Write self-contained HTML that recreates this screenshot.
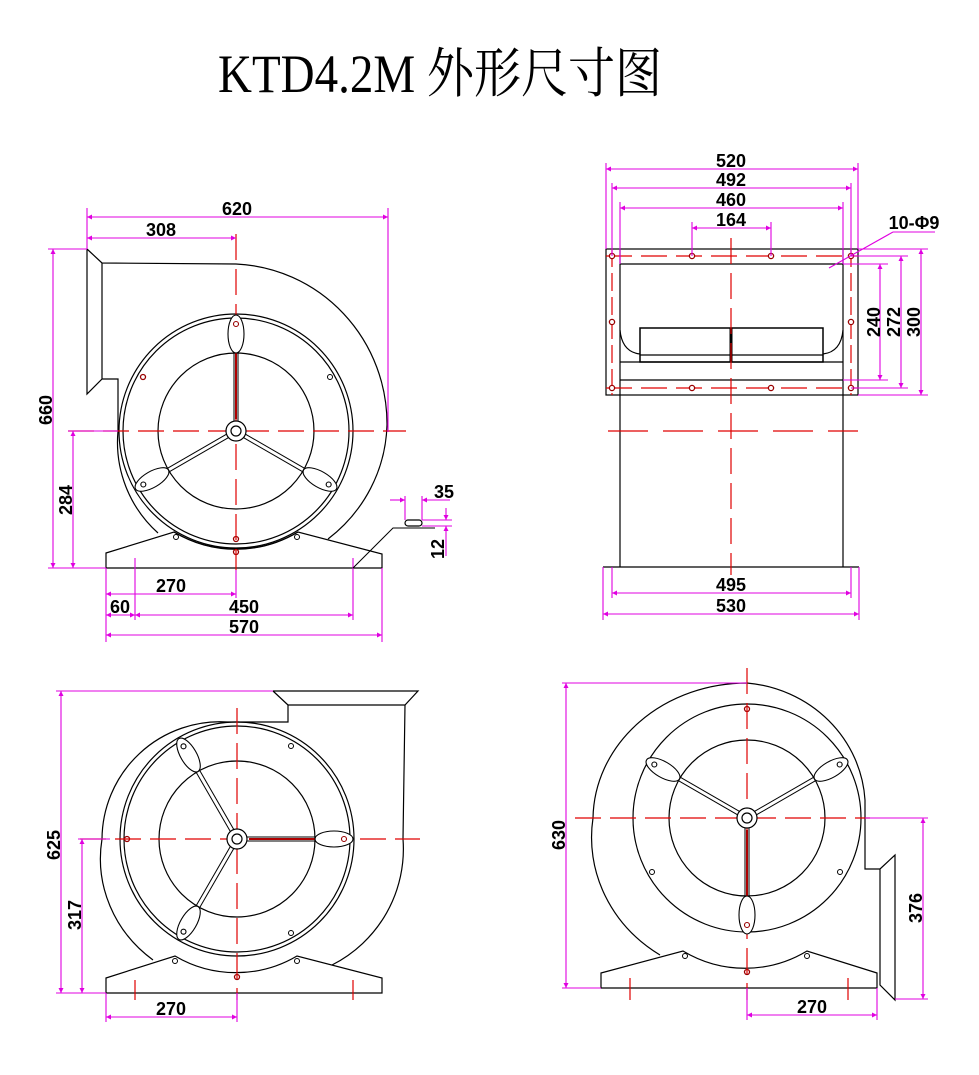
<!DOCTYPE html>
<html><head><meta charset="utf-8">
<style>
html,body{margin:0;padding:0;background:#fff;}
svg{display:block;}
.k{fill:none;stroke:#000;stroke-width:1.2;}
.r{fill:none;stroke:#e00000;stroke-width:1.2;stroke-dasharray:26 9;}
.m{fill:none;stroke:#e000e0;stroke-width:1.1;}
.d{fill:none;stroke:#e000e0;stroke-width:1.1;marker-start:url(#a);marker-end:url(#a);}
.t{font-family:"Liberation Sans Narrow","Liberation Sans",sans-serif;font-size:18px;font-weight:bold;fill:#000;text-anchor:middle;}
.h{fill:#fff;stroke:#000;stroke-width:1;}
.hr{fill:#fff;stroke:#900;stroke-width:1.3;}
</style></head><body>
<svg id="s" width="979" height="1075" viewBox="0 0 979 1075" xmlns="http://www.w3.org/2000/svg">
<defs>
<marker id="a" viewBox="0 0 10 10" refX="10" refY="5" markerWidth="9" markerHeight="5" orient="auto-start-reverse" markerUnits="userSpaceOnUse"><path d="M0,0 L10,5 L0,10 z" fill="#e000e0"/></marker>
</defs>
<text x="218" y="92" font-family="'Liberation Serif','Noto Serif CJK SC',serif" font-size="54" textLength="444" lengthAdjust="spacingAndGlyphs" fill="#000">KTD4.2M 外形尺寸图</text>

<!-- ===== VIEW 1 ===== -->
<g id="v1">
<path class="k" d="M87,249 L102,263 L236,264 A158,160 0 0 1 387,425 A154,150 0 0 1 328,539"/>
<path class="k" d="M87,249 L87,394 L102,379 L102,263 M102,379 L118,379 L118,431 A122,122 0 0 0 158,533"/>
<circle class="k" cx="236" cy="431" r="117"/>
<circle class="k" cx="236" cy="431" r="113"/>
<circle class="k" cx="236" cy="431" r="78"/>
<path class="k" d="M106,553 L174,532 A120,120 0 0 0 298,532 L382,554 L382,568 L106,568 Z" style="fill:#fff"/>
<path class="k" d="M174,532 A122,122 0 0 0 298,532"/>
<circle class="h" cx="176" cy="537" r="2.5"/><circle class="h" cx="297" cy="537" r="2.5"/>
<circle class="hr" cx="236" cy="552" r="2.5"/><circle class="hr" cx="236" cy="539" r="2.5"/>
<circle class="hr" cx="143" cy="377" r="2.5"/><circle class="h" cx="330" cy="377" r="2.5"/>
<line class="r" x1="68" y1="431" x2="406" y2="431"/>
<line class="r" x1="236" y1="234" x2="236" y2="570"/>
</g>
<!-- dims v1 -->
<line class="d" x1="87" y1="217" x2="388" y2="217"/><text class="t" x="237" y="215">620</text>
<line class="d" x1="87" y1="238" x2="236" y2="238"/><text class="t" x="161" y="236">308</text>
<line class="m" x1="87" y1="208" x2="87" y2="249"/><line class="m" x1="388" y1="208" x2="388" y2="432"/>
<line class="d" x1="53" y1="249" x2="53" y2="568"/><text class="t" transform="translate(52,410) rotate(-90)">660</text>
<line class="d" x1="73" y1="431" x2="73" y2="568"/><text class="t" transform="translate(72,500) rotate(-90)">284</text>
<line class="m" x1="48" y1="249" x2="87" y2="249"/><line class="m" x1="48" y1="568" x2="106" y2="568"/>
<line class="m" x1="68" y1="431" x2="118" y2="431"/>
<line class="m" x1="106" y1="568" x2="106" y2="642"/><line class="m" x1="382" y1="568" x2="382" y2="642"/>
<line class="m" x1="135" y1="558" x2="135" y2="620"/><line class="m" x1="353" y1="558" x2="353" y2="620"/>
<line class="m" x1="236" y1="570" x2="236" y2="598"/>
<line class="d" x1="106" y1="594" x2="236" y2="594"/><text class="t" x="171" y="592">270</text>
<line class="d" x1="106" y1="615" x2="135" y2="615"/><text class="t" x="120" y="613">60</text>
<line class="d" x1="135" y1="615" x2="353" y2="615"/><text class="t" x="244" y="613">450</text>
<line class="d" x1="106" y1="635" x2="382" y2="635"/><text class="t" x="244" y="633">570</text>
<path class="k" d="M353,568 L393,528 L435,528" style="stroke-width:1"/>
<rect x="405" y="520" width="17" height="6" rx="3" class="k"/>
<line class="m" x1="405" y1="496" x2="405" y2="520"/><line class="m" x1="422" y1="496" x2="422" y2="520"/>
<line class="m" x1="390" y1="500" x2="405" y2="500" style="marker-end:url(#a)"/>
<line class="m" x1="450" y1="500" x2="422" y2="500" style="marker-end:url(#a)"/>
<text class="t" x="444" y="498">35</text>
<line class="m" x1="422" y1="520" x2="452" y2="520"/><line class="m" x1="422" y1="526" x2="452" y2="526"/>
<line class="m" x1="446" y1="508" x2="446" y2="520" style="marker-end:url(#a)"/>
<line class="m" x1="446" y1="556" x2="446" y2="526" style="marker-end:url(#a)"/>
<text class="t" transform="translate(444,549) rotate(-90)">12</text>

<!-- ===== VIEW 2 ===== -->
<rect class="k" x="606" y="249" width="252" height="146"/>
<path class="k" d="M620,249 L620,567 M843,249 L843,567 M620,264 L843,264 M620,362 L843,362 M620,380 L843,380 M620,567 L843,567 M603,567 L620,567 M843,567 L859,567"/>
<path class="k" d="M620,330 Q622,352 640,354 M843,330 Q841,352 823,354"/>
<rect class="k" x="640" y="328" width="183" height="34" style="stroke-width:1.5"/>
<line class="k" x1="640" y1="355" x2="823" y2="355"/>
<line x1="731" y1="328" x2="731" y2="362" stroke="#000" stroke-width="3"/>
<line class="r" x1="606" y1="256" x2="858" y2="256"/>
<line class="r" x1="606" y1="388" x2="858" y2="388"/>
<line class="r" x1="612" y1="249" x2="612" y2="395" style="stroke-dasharray:18 6"/>
<line class="r" x1="851" y1="249" x2="851" y2="395" style="stroke-dasharray:18 6"/>
<line class="r" x1="731" y1="238" x2="731" y2="575"/>
<line class="r" x1="608" y1="431" x2="858" y2="431" style="stroke-dasharray:40 15"/>
<g>
<circle class="hr" cx="612" cy="256" r="2.6"/><circle class="hr" cx="692" cy="256" r="2.6"/><circle class="hr" cx="771" cy="256" r="2.6"/><circle class="hr" cx="851" cy="256" r="2.6"/>
<circle class="hr" cx="612" cy="388" r="2.6"/><circle class="hr" cx="692" cy="388" r="2.6"/><circle class="hr" cx="771" cy="388" r="2.6"/><circle class="hr" cx="851" cy="388" r="2.6"/>
<circle class="hr" cx="612" cy="322" r="2.6"/><circle class="hr" cx="851" cy="322" r="2.6"/>
</g>
<line class="m" x1="606" y1="163" x2="606" y2="249"/><line class="m" x1="858" y1="163" x2="858" y2="249"/>
<line class="m" x1="612" y1="183" x2="612" y2="256"/><line class="m" x1="851" y1="183" x2="851" y2="256"/>
<line class="m" x1="620" y1="202" x2="620" y2="264"/><line class="m" x1="843" y1="202" x2="843" y2="264"/>
<line class="m" x1="692" y1="222" x2="692" y2="256"/><line class="m" x1="771" y1="222" x2="771" y2="256"/>
<line class="d" x1="606" y1="169" x2="858" y2="169"/><text class="t" x="731" y="167">520</text>
<line class="d" x1="612" y1="188" x2="851" y2="188"/><text class="t" x="731" y="186">492</text>
<line class="d" x1="620" y1="208" x2="843" y2="208"/><text class="t" x="731" y="206">460</text>
<line class="d" x1="692" y1="228" x2="771" y2="228"/><text class="t" x="731" y="226">164</text>
<line class="m" x1="893" y1="232" x2="935" y2="232"/>
<line class="m" x1="893" y1="232" x2="829" y2="268"/>
<text class="t" x="914" y="229">10-Φ9</text>
<line class="m" x1="843" y1="264" x2="888" y2="264"/><line class="m" x1="843" y1="380" x2="888" y2="380"/>
<line class="m" x1="851" y1="256" x2="908" y2="256"/><line class="m" x1="851" y1="388" x2="908" y2="388"/>
<line class="m" x1="858" y1="249" x2="928" y2="249"/><line class="m" x1="858" y1="395" x2="928" y2="395"/>
<line class="d" x1="880" y1="264" x2="880" y2="380"/><text class="t" transform="translate(880,322) rotate(-90)">240</text>
<line class="d" x1="901" y1="256" x2="901" y2="388"/><text class="t" transform="translate(900,322) rotate(-90)">272</text>
<line class="d" x1="921" y1="249" x2="921" y2="395"/><text class="t" transform="translate(920,322) rotate(-90)">300</text>
<line class="m" x1="603" y1="567" x2="603" y2="620"/><line class="m" x1="859" y1="567" x2="859" y2="620"/>
<line class="m" x1="612" y1="567" x2="612" y2="598"/><line class="m" x1="851" y1="567" x2="851" y2="598"/>
<line class="d" x1="612" y1="593" x2="851" y2="593"/><text class="t" x="731" y="591">495</text>
<line class="d" x1="603" y1="614" x2="859" y2="614"/><text class="t" x="731" y="612">530</text>

<!-- ===== VIEW 3 ===== -->
<path class="k" d="M273,691 L418,691 L405,705 L288,705 L288,722 L227,722 A118,118 0 0 0 102,839 A135,128 0 0 0 153,960"/>
<path class="k" d="M273,691 L288,705 M405,705 L403,839 A130,130 0 0 1 332,965"/>
<circle class="k" cx="237" cy="839" r="117"/>
<circle class="k" cx="237" cy="839" r="113"/>
<circle class="k" cx="237" cy="839" r="78"/>
<path class="k" style="fill:#fff" d="M106,978 L175,956 A120,120 0 0 0 297,956 L382,978 L382,993 L106,993 Z"/>
<circle class="h" cx="175" cy="961" r="2.5"/><circle class="h" cx="297" cy="961" r="2.5"/><circle class="hr" cx="237" cy="977" r="2.5"/>
<circle class="hr" cx="127" cy="839" r="2.5"/><circle class="h" cx="291" cy="746" r="2.5"/><circle class="h" cx="291" cy="933" r="2.5"/>
<line class="r" x1="80" y1="839" x2="420" y2="839"/>
<line class="r" x1="237" y1="708" x2="237" y2="1000"/>
<line class="r" x1="135" y1="980" x2="135" y2="1000" style="stroke-dasharray:none"/>
<line class="r" x1="353" y1="980" x2="353" y2="1000" style="stroke-dasharray:none"/>
<line class="m" x1="56" y1="691" x2="273" y2="691"/><line class="m" x1="56" y1="993" x2="106" y2="993"/>
<line class="m" x1="78" y1="839" x2="110" y2="839"/>
<line class="d" x1="61" y1="691" x2="61" y2="993"/><text class="t" transform="translate(60,845) rotate(-90)">625</text>
<line class="d" x1="82" y1="839" x2="82" y2="993"/><text class="t" transform="translate(81,915) rotate(-90)">317</text>
<line class="m" x1="106" y1="993" x2="106" y2="1022"/><line class="m" x1="237" y1="993" x2="237" y2="1022"/>
<line class="d" x1="106" y1="1017" x2="237" y2="1017"/><text class="t" x="171" y="1015">270</text>

<!-- ===== VIEW 4 ===== -->
<path class="k" d="M660,955 A150,140 0 0 1 593,818 A154,137 0 0 1 747,683 A130,125 0 0 1 865,800 L865,869 L880,869 L895,855 L895,1000 L880,985 L880,869"/>
<circle class="k" cx="747" cy="818" r="114"/>
<circle class="k" cx="747" cy="818" r="78"/>
<path class="k" style="fill:#fff" d="M601,973 L683,951 A120,120 0 0 0 807,951 L877,973 L877,988 L601,988 Z"/>
<circle class="h" cx="685" cy="956" r="2.5"/><circle class="h" cx="807" cy="956" r="2.5"/><circle class="hr" cx="747" cy="972" r="2.5"/>
<circle class="hr" cx="747" cy="709" r="2.5"/><circle class="h" cx="652" cy="872" r="2.5"/><circle class="h" cx="840" cy="872" r="2.5"/>
<line class="r" x1="575" y1="818" x2="870" y2="818"/>
<line class="r" x1="747" y1="668" x2="747" y2="1000"/>
<line class="r" x1="630" y1="978" x2="630" y2="1000" style="stroke-dasharray:none"/>
<line class="r" x1="848" y1="978" x2="848" y2="1000" style="stroke-dasharray:none"/>
<line class="m" x1="562" y1="683" x2="747" y2="683"/><line class="m" x1="562" y1="988" x2="601" y2="988"/>
<line class="d" x1="566" y1="683" x2="566" y2="988"/><text class="t" transform="translate(565,835) rotate(-90)">630</text>
<line class="m" x1="865" y1="818" x2="928" y2="818"/><line class="m" x1="895" y1="999" x2="928" y2="999"/>
<line class="d" x1="923" y1="818" x2="923" y2="999"/><text class="t" transform="translate(922,908) rotate(-90)">376</text>
<line class="m" x1="747" y1="988" x2="747" y2="1020"/><line class="m" x1="877" y1="988" x2="877" y2="1020"/>
<line class="d" x1="747" y1="1015" x2="877" y2="1015"/><text class="t" x="812" y="1013">270</text>
<g id="fans"></g>
</svg>
<script>
(function(){
var NS="http://www.w3.org/2000/svg",g=document.getElementById("fans");
function el(n,a){var e=document.createElementNS(NS,n);for(var k in a)e.setAttribute(k,a[k]);g.appendChild(e);return e;}
function fan(cx,cy,angs,redIdx){
 angs.forEach(function(a,i){
  var r=a*Math.PI/180,c=Math.cos(r),s=Math.sin(r),px=-s,py=c;
  [-2,2].forEach(function(o){
   el("line",{x1:cx+c*10+px*o,y1:cy+s*10+py*o,x2:cx+c*80+px*o,y2:cy+s*80+py*o,stroke:"#000","stroke-width":1});
  });
  if(i===redIdx) el("line",{x1:cx+c*12,y1:cy+s*12,x2:cx+c*80,y2:cy+s*80,stroke:"#b00000","stroke-width":2});
  var mx=cx+c*97,my=cy+s*97;
  el("ellipse",{cx:mx,cy:my,rx:19,ry:8,transform:"rotate("+a+" "+mx+" "+my+")",fill:"#fff",stroke:"#000","stroke-width":1.1});
  el("circle",{cx:cx+c*107,cy:cy+s*107,r:2.5,fill:"#fff",stroke:i===redIdx?"#900":"#000","stroke-width":1.1});
 });
 el("circle",{cx:cx,cy:cy,r:10,fill:"#fff",stroke:"#000","stroke-width":1.2});
 el("circle",{cx:cx,cy:cy,r:5,fill:"#fff",stroke:"#000","stroke-width":1.2});
}
fan(236,431,[-90,150,30],0);
fan(237,839,[0,-120,120],0);
fan(747,818,[90,-150,-30],0);
})();
</script>
</body></html>
